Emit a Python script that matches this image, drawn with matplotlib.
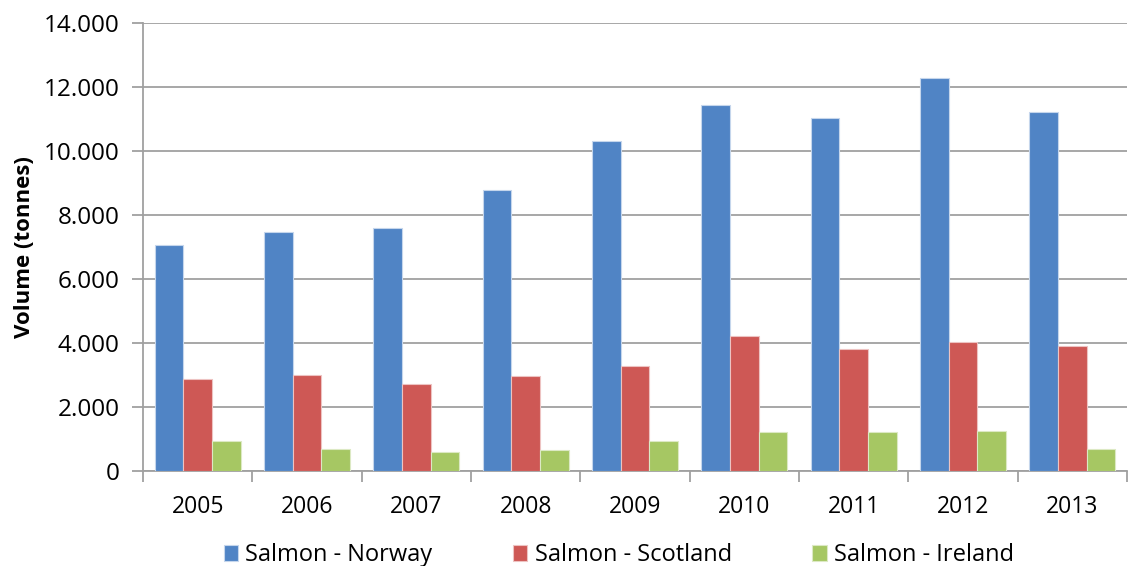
import matplotlib
matplotlib.use('Agg')
import matplotlib.pyplot as plt
import numpy as np

# data
years = ['2005', '2006', '2007', '2008', '2009', '2010', '2011', '2012', '2013']
norway = [7050, 7470, 7590, 8780, 10310, 11430, 11040, 12270, 11210]
scotland = [2865, 2990, 2720, 2960, 3290, 4220, 3810, 4030, 3900]
ireland = [950, 700, 600, 650, 950, 1210, 1230, 1250, 700]
series_names = ['Salmon - Norway', 'Salmon - Scotland', 'Salmon - Ireland']
colors = ['#5084C5', '#CE5855', '#A6C763']
edges = ['#C5D6EC', '#EDC3C2', '#DCE9C4']

plt.rcParams['font.family'] = ['Open Sans', 'DejaVu Sans']
grid_col = '#A0A0A0'

fig = plt.figure(figsize=(11.31, 5.66), dpi=100)
ax = fig.add_axes([0.1264, 0.1678, 0.8701, 0.7916])

x = np.arange(len(years))
w = 0.262
for i, vals in enumerate([norway, scotland, ireland]):
    ax.bar(x + (i - 1) * w, vals, w, color=colors[i], edgecolor=edges[i],
           linewidth=0.8, label=series_names[i], zorder=3)

ax.set_xlim(-0.5, len(years) - 0.5)
ax.set_ylim(0, 14000)
ax.set_yticks(np.arange(0, 14001, 2000))
ax.set_yticklabels(['0' if v == 0 else f'{v // 1000}.000' for v in range(0, 14001, 2000)])
ax.yaxis.grid(True, color=grid_col, linewidth=1.3, zorder=0)

ax.set_xticks(x)
ax.set_xticklabels(years)
ax.set_xticks(np.arange(-0.5, len(years), 1), minor=True)
ax.tick_params(axis='x', which='major', length=0, pad=17, labelsize=16.5)
ax.tick_params(axis='x', which='minor', length=8, width=1.3, color=grid_col, direction='out')
ax.tick_params(axis='y', length=8, width=1.3, color=grid_col, pad=9, labelsize=17.5)

for s in ['top', 'right']:
    ax.spines[s].set_visible(False)
for s in ['left', 'bottom']:
    ax.spines[s].set_color(grid_col)
    ax.spines[s].set_linewidth(1.3)

ax.set_ylabel('Volume (tonnes)', fontsize=16, fontweight='bold', labelpad=6)

leg = fig.legend(loc='center', bbox_to_anchor=(0.547, 0.019), ncol=3,
                 frameon=False, fontsize=17, handlelength=0.62, handleheight=0.62,
                 handletextpad=0.3, columnspacing=3.4, borderpad=0)

fig.savefig('out.png', dpi=100)
